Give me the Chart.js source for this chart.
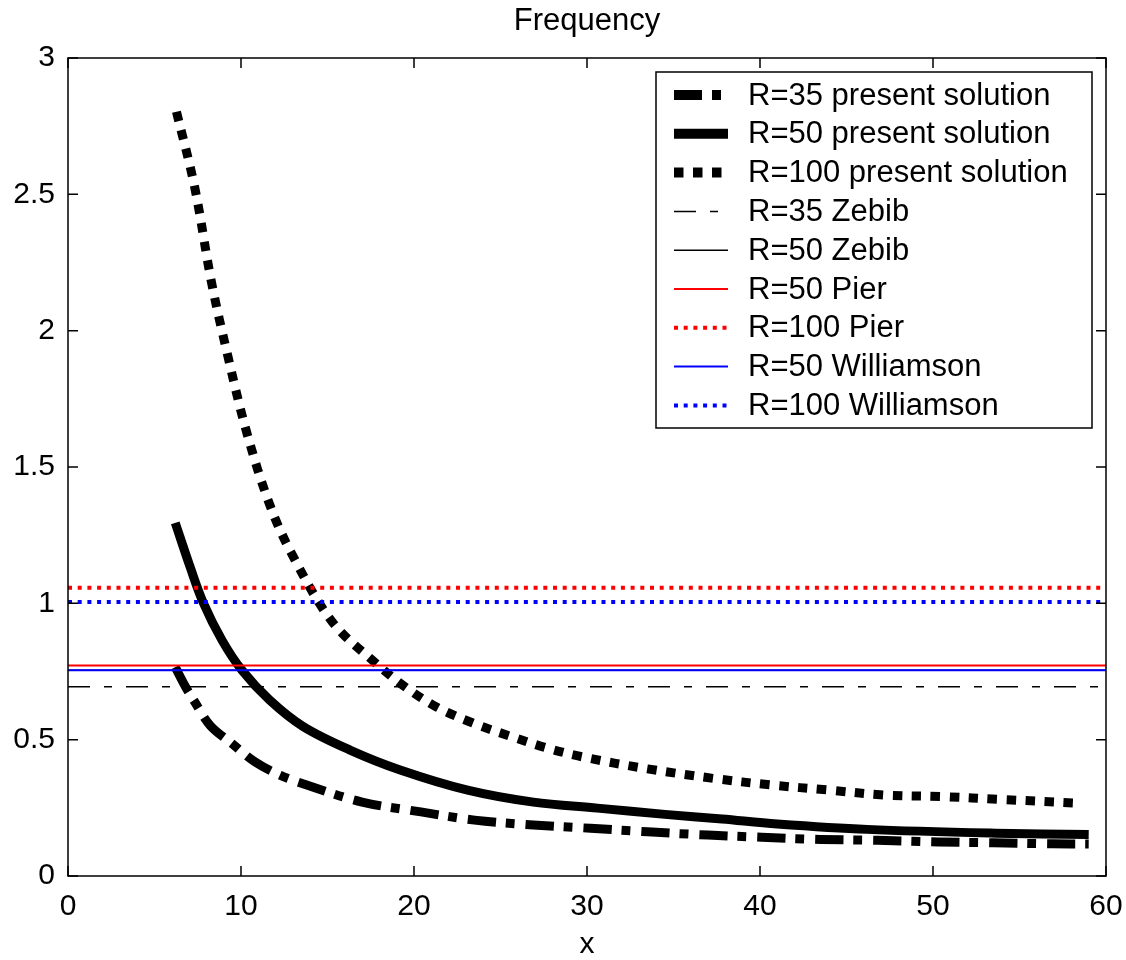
<!DOCTYPE html>
<html>
<head>
<meta charset="utf-8">
<script src="https://cdn.jsdelivr.net/npm/chart.js@4.4.1/dist/chart.umd.min.js"></script>
<style>
  html, body { margin: 0; padding: 0; background: #fff; }
</style>
</head>
<body>
<canvas id="chart-frequency" width="1126" height="960"></canvas>
<script>
// values
var chartTitle = 'Frequency';
var xTitle = 'x';
var xTicks = [0, 10, 20, 30, 40, 50, 60];
var yTicks = [0, 0.5, 1, 1.5, 2, 2.5, 3];

var r35X = [6.2, 6.8, 7.32, 8.23, 9.45, 10.8, 12.25, 13.8, 17.0, 20.4, 23.5, 26.9, 30.2, 33.5, 37.0, 40.1, 43.5, 46.8, 50.3, 53.5, 56.9, 59.0];
var r35Y = [0.766, 0.693, 0.639, 0.551, 0.487, 0.419, 0.370, 0.334, 0.271, 0.235, 0.205, 0.187, 0.175, 0.162, 0.150, 0.142, 0.134, 0.131, 0.125, 0.122, 0.118, 0.117];

var r50X = [6.2, 7.06, 7.8, 8.9, 10.05, 11.66, 13.6, 16.3, 19.2, 23.1, 26.9, 30.6, 34.5, 37.8, 41.0, 46.2, 53.6, 59.0];
var r50Y = [1.295, 1.133, 1.005, 0.865, 0.755, 0.645, 0.548, 0.462, 0.389, 0.315, 0.271, 0.249, 0.226, 0.209, 0.191, 0.171, 0.157, 0.152];

var r100X = [6.27, 7.32, 8.29, 9.25, 10.32, 11.67, 13.02, 15.3, 17.8, 19.5, 21.3, 23.4, 25.6, 27.7, 29.8, 33.5, 37.3, 40.6, 44.0, 47.2, 50.6, 53.9, 58.4];
var r100Y = [2.803, 2.527, 2.179, 1.904, 1.629, 1.360, 1.171, 0.930, 0.780, 0.693, 0.620, 0.561, 0.512, 0.469, 0.436, 0.393, 0.358, 0.334, 0.315, 0.297, 0.291, 0.281, 0.267];

// horizontal reference values (Zebib R=35, Zebib R=50, Pier R=50, Pier R=100, Williamson R=50, Williamson R=100)
var refX = [0, 60];
var refValues = [0.694, 0.755, 0.772, 1.057, 0.755, 1.005];

var seriesLabels = [
    'R=35 present solution',
    'R=50 present solution',
    'R=100 present solution',
    'R=35 Zebib',
    'R=50 Zebib',
    'R=50 Pier',
    'R=100 Pier',
    'R=50 Williamson',
    'R=100 Williamson'
];


function toPoints(xs, ys) {
    var pts = [];
    for (var i = 0; i < xs.length; i++) {
        pts.push({x: xs[i], y: ys[i]});
    }
    return pts;
}

function refPoints(v) {
    return refX.map(function (x) { return {x: x, y: v}; });
}

var curveStyles = [
    {color: '#000000', width: 9, legendWidth: 10, dash: [28, 10, 9, 11]},
    {color: '#000000', width: 9, legendWidth: 10, dash: []},
    {color: '#000000', width: 9, legendWidth: 10, dash: [9.5, 9.5]}
];
var refStyles = [
    {color: '#000000', width: 1.5, legendWidth: 1.5, dash: [22, 14, 8, 14]},
    {color: '#000000', width: 1.5, legendWidth: 1.5, dash: []},
    {color: '#ff0000', width: 2, legendWidth: 2, dash: []},
    {color: '#ff0000', width: 4, legendWidth: 4, dash: [4, 5.7]},
    {color: '#0000ff', width: 2, legendWidth: 2, dash: []},
    {color: '#0000ff', width: 4, legendWidth: 4, dash: [4, 5.7]}
];

var curveData = [toPoints(r35X, r35Y), toPoints(r50X, r50Y), toPoints(r100X, r100Y)];

var datasets = [];
curveData.forEach(function (pts, i) {
    datasets.push({
        label: seriesLabels[i],
        data: pts,
        borderColor: curveStyles[i].color,
        borderWidth: curveStyles[i].width,
        borderDash: curveStyles[i].dash,
        tension: 0.35,
        pointRadius: 0,
        fill: false,
        order: 20 - i
    });
});
refValues.forEach(function (v, i) {
    datasets.push({
        label: seriesLabels[i + 3],
        data: refPoints(v),
        borderColor: refStyles[i].color,
        borderWidth: refStyles[i].width,
        borderDash: refStyles[i].dash,
        pointRadius: 0,
        fill: false,
        order: 17 - i
    });
});


// box with inward ticks on all four sides, like the original figure, plus the title
var framePlugin = {
    id: 'frame',
    afterDatasetsDraw: function (chart) {
        var ctx = chart.ctx, a = chart.chartArea;
        var xs = chart.scales.x, ys = chart.scales.y;
        ctx.save();
        ctx.strokeStyle = '#000';
        ctx.lineWidth = 1.5;
        ctx.setLineDash([]);
        ctx.strokeRect(a.left, a.top, a.right - a.left, a.bottom - a.top);
        ctx.beginPath();
        xTicks.forEach(function (v) {
            var px = xs.getPixelForValue(v);
            ctx.moveTo(px, a.bottom); ctx.lineTo(px, a.bottom - 10);
            ctx.moveTo(px, a.top); ctx.lineTo(px, a.top + 10);
        });
        yTicks.forEach(function (v) {
            var py = ys.getPixelForValue(v);
            ctx.moveTo(a.left, py); ctx.lineTo(a.left + 10, py);
            ctx.moveTo(a.right, py); ctx.lineTo(a.right - 10, py);
        });
        ctx.stroke();

        ctx.fillStyle = '#000';
        ctx.font = '31px "Liberation Sans", Arial, sans-serif';
        ctx.textAlign = 'center';
        ctx.textBaseline = 'middle';
        ctx.fillText(chartTitle, (a.left + a.right) / 2, 21);
        ctx.restore();
    }
};

// legend box in the top right corner
var legendPlugin = {
    id: 'boxLegend',
    afterDatasetsDraw: function (chart) {
        var ctx = chart.ctx;
        var box = {left: 656, top: 72, right: 1092, bottom: 428};
        ctx.save();
        ctx.fillStyle = '#fff';
        ctx.fillRect(box.left, box.top, box.right - box.left, box.bottom - box.top);
        ctx.strokeStyle = '#000';
        ctx.lineWidth = 1.5;
        ctx.setLineDash([]);
        ctx.strokeRect(box.left, box.top, box.right - box.left, box.bottom - box.top);

        ctx.font = '31px "Liberation Sans", Arial, sans-serif';
        ctx.textBaseline = 'middle';
        ctx.textAlign = 'left';
        var styles = curveStyles.concat(refStyles);
        for (var i = 0; i < seriesLabels.length; i++) {
            var yy = 95 + i * 38.8;
            var st = styles[i];
            ctx.beginPath();
            ctx.strokeStyle = st.color;
            ctx.lineWidth = st.legendWidth;
            ctx.setLineDash(st.dash);
            ctx.moveTo(674, yy);
            ctx.lineTo(728, yy);
            ctx.stroke();
            ctx.setLineDash([]);
            ctx.fillStyle = '#000';
            ctx.fillText(seriesLabels[i], 748, yy + 1);
        }
        ctx.restore();
    }
};


Chart.defaults.font.family = '"Liberation Sans", Arial, sans-serif';
Chart.defaults.font.size = 30;
Chart.defaults.color = '#000';

var ctx = document.getElementById('chart-frequency').getContext('2d');
var myChart = new Chart(ctx, {
    type: 'line',
    data: {datasets: datasets},
    plugins: [framePlugin, legendPlugin],
    options: {
        responsive: false,
        animation: false,
        devicePixelRatio: 1,
        layout: {padding: {top: 58, right: 20, left: 0, bottom: 0}},
        plugins: {
            legend: {display: false},
            tooltip: {enabled: false},
            title: {display: false}
        },
        scales: {
            x: {
                type: 'linear',
                min: 0,
                max: 60,
                afterFit: function (scale) {
                    scale.height = 84;
                    scale.paddingRight = 0;
                    scale.paddingLeft = 0;
                },
                grid: {display: false, drawTicks: false},
                border: {display: false},
                ticks: {stepSize: 10, padding: 13, maxRotation: 0, autoSkip: false, color: '#000'},
                title: {display: true, text: xTitle, color: '#000', font: {size: 30, lineHeight: 1}, padding: {top: 0, bottom: 0}}
            },
            y: {
                type: 'linear',
                min: 0,
                max: 3,
                afterFit: function (scale) {
                    scale.width = 68;
                    scale.paddingTop = 0;
                    scale.paddingBottom = 0;
                },
                grid: {display: false, drawTicks: false},
                border: {display: false},
                ticks: {
                    stepSize: 0.5,
                    padding: 13,
                    color: '#000',
                    callback: function (v) { return String(v); }
                }
            }
        }
    }
});
</script>
</body>
</html>
